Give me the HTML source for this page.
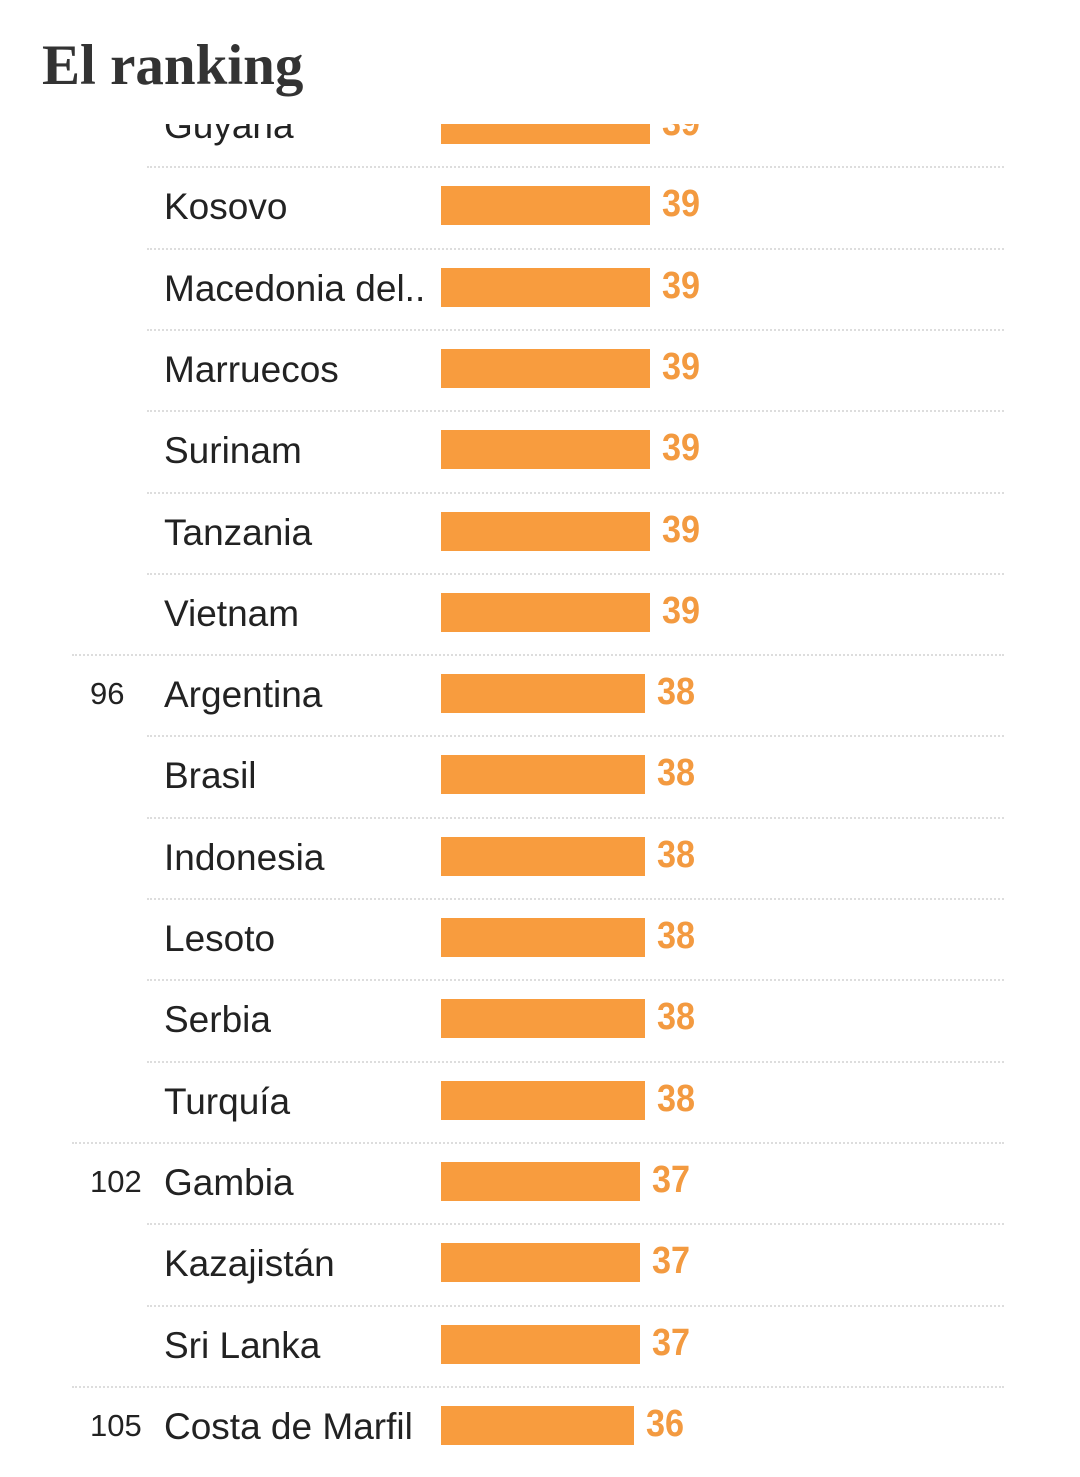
<!DOCTYPE html>
<html><head><meta charset="utf-8"><style>
body{margin:0;width:1080px;height:1477px;background:#fff;position:relative;overflow:hidden;font-family:"Liberation Sans",sans-serif}
h1{position:absolute;left:42px;top:33px;margin:0;font:bold 57px "Liberation Serif",serif;color:#333}
#clip{position:absolute;left:0;top:124px;width:1080px;height:1353px;overflow:hidden}
.r{position:absolute;left:0;width:1080px;height:82px}
.n{position:absolute;left:90px;top:23px;font-size:31px;color:#222}
.l{position:absolute;left:164px;top:21px;font-size:37px;color:#222;white-space:nowrap}
.b{position:absolute;left:441px;top:21px;height:39px;background:#f89c3e}
.v{position:absolute;top:18px;font:bold 38px "Liberation Sans Narrow","Liberation Sans",sans-serif;color:#f39a40;transform:scaleX(0.9);transform-origin:left}
.s{position:absolute;height:0;border-top:2px dotted #ddd;right:76px}
</style></head><body>
<h1>El ranking</h1>
<div id="clip"></div>
<script>
var d=[["","Guyana",39],["","Kosovo",39],["","Macedonia del..",39],["","Marruecos",39],["","Surinam",39],["","Tanzania",39],["","Vietnam",39],["96","Argentina",38],["","Brasil",38],["","Indonesia",38],["","Lesoto",38],["","Serbia",38],["","Turquía",38],["102","Gambia",37],["","Kazajistán",37],["","Sri Lanka",37],["105","Costa de Marfil",36]];
var h="",w={39:209,38:204,37:199,36:193};
d.forEach(function(r,i){var c=125+81.3*i-124;var t=c-41;
if(i>0){h+='<div class="s" style="top:'+(t+1)+'px;left:'+(r[0]?72:147)+'px"></div>';}
h+='<div class="r" style="top:'+t+'px"><div class="n">'+r[0]+'</div><div class="l">'+r[1]+'</div><div class="b" style="width:'+w[r[2]]+'px"></div><div class="v" style="left:'+(441+w[r[2]]+12)+'px">'+r[2]+'</div></div>';});
document.getElementById("clip").innerHTML=h;
</script>
</body></html>
